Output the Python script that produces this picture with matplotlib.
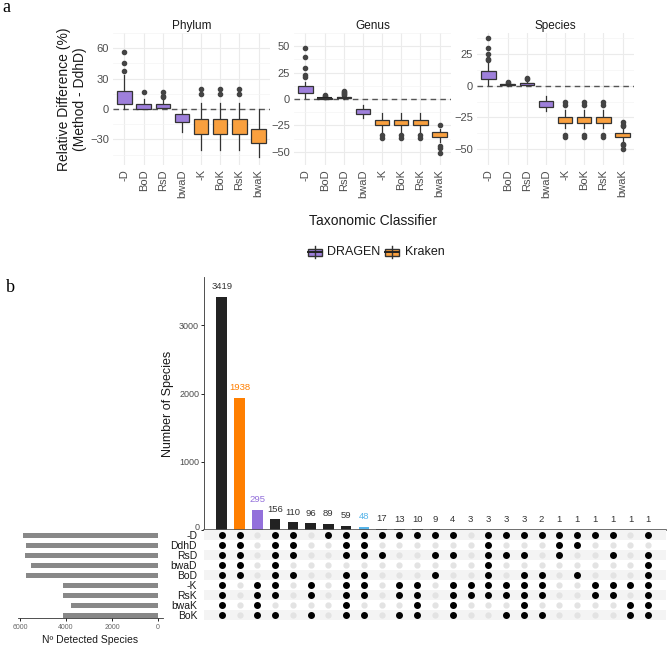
import numpy as np
import matplotlib
matplotlib.use("Agg")
from matplotlib import pyplot as plt
from matplotlib.patches import Rectangle
from matplotlib.transforms import ScaledTranslation

plt.rcParams['font.family'] = ['Liberation Sans', 'DejaVu Sans']

# ---------------- panel a data (box stats) ----------------
methods = ['-D', 'BoD', 'RsD', 'bwaD', '-K', 'BoK', 'RsK', 'bwaK']
groups = ['DRAGEN'] * 4 + ['Kraken'] * 4
levels = ['Phylum', 'Genus', 'Species']

# whislo, q1, med, q3, whishi
phylum_stats = [(0, 4.5, 10, 17.5, 34), (0, 0, 0.5, 5, 10), (0.5, 0.8, 2.5, 5, 10), (-23, -12.5, -8.5, -4.5, -1),
                (-40, -24.5, -17.5, -9.5, 5.5), (-40, -24.5, -17.5, -9.5, 5.5), (-40, -24.5, -17.5, -9.5, 5.5),
                (-47, -33.5, -28, -20, 0)]
phylum_fliers = [[37, 45, 56], [17], [12, 13, 17], [], [15, 20], [15, 20], [15, 20], []]

genus_stats = [(1, 5.3, 8.5, 12.2, 16), (0, 0.2, 0.5, 1, 1.5), (0, 0.5, 1, 2, 3), (-18.3, -14.2, -11.9, -9.4, -5.3),
               (-30.8, -24.7, -22.5, -19.7, -12.8), (-30.8, -24.7, -22.5, -19.7, -12.8), (-30.8, -24.7, -22.5, -19.7, -12.8),
               (-40.5, -36.4, -34.2, -31.7, -28)]
genus_fliers = [[21, 22.7, 29, 40, 48], [2, 3, 4], [4, 5, 6, 7, 8], [], [-34.4, -37.2], [-34.4, -37.2], [-34.4, -37.2],
                [-24.7, -44.7, -46.7, -51]]

species_stats = [(0.7, 5.6, 8.8, 11.5, 17.9), (0, 0.2, 0.5, 1, 1.5), (0.3, 0.8, 1.5, 2.5, 4), (-20, -16.4, -14, -12, -7.9),
                 (-33.6, -29.4, -26.7, -24.3, -19), (-33.6, -29.4, -26.7, -24.3, -19), (-33.6, -29.4, -26.7, -24.3, -19),
                 (-43.4, -40.2, -38.7, -37.3, -33.6)]
species_fliers = [[20, 21, 24.7, 29.6, 37.5], [2, 3], [5, 6.5], [], [-12.7, -15, -38.5, -40.4], [-12.7, -15, -38.5, -40.4],
                  [-12.7, -15, -38.5, -40.4], [-28.7, -30.7, -32, -46.3, -47, -50.2]]

y_ticks = {'Phylum': [-30, 0, 30, 60], 'Genus': [-50, -25, 0, 25, 50], 'Species': [-50, -25, 0, 25]}
y_lims = {'Phylum': (-55.3, 61.3), 'Genus': (-56, 53), 'Species': (-54.4, 41.6)}

# ---------------- panel b data ----------------
sets = ['-D', 'DdhD', 'RsD', 'bwaD', 'BoD', '-K', 'RsK', 'bwaK', 'BoK']
set_sizes = [5888, 5735, 5772, 5517, 5749, 4118, 4117, 3792, 4110]
inter_sizes = [3419, 1938, 295, 156, 110, 96, 89, 59, 48, 17, 13, 10, 9, 4, 3, 3, 3, 3, 2, 1, 1, 1, 1, 1, 1]
inter_members = [
    sets,
    ['-D', 'DdhD', 'RsD', 'bwaD', 'BoD'],
    ['-K', 'RsK', 'bwaK', 'BoK'],
    ['-D', 'DdhD', 'RsD', 'bwaD', 'BoD', '-K', 'RsK', 'BoK'],
    ['-D', 'DdhD', 'RsD', 'BoD'],
    ['-K', 'RsK', 'BoK'],
    ['-D'],
    ['-D', 'DdhD', 'RsD', 'BoD', '-K', 'RsK', 'bwaK', 'BoK'],
    ['-D', 'DdhD', 'RsD', 'BoD', '-K', 'RsK', 'BoK'],
    ['-D', 'RsD'],
    ['-D', '-K', 'RsK', 'BoK'],
    ['-D', '-K', 'RsK', 'bwaK', 'BoK'],
    ['-D', 'RsD', 'BoD'],
    ['-D', 'RsD', '-K', 'RsK', 'bwaK', 'BoK'],
    ['-K', 'RsK'],
    ['-D', 'DdhD', 'RsD', 'bwaD', 'BoD', '-K', 'RsK'],
    ['-D', 'RsD', '-K', 'RsK', 'BoK'],
    ['-D', 'RsD', 'BoD', '-K', 'RsK', 'bwaK', 'BoK'],
    ['-D', 'BoD', '-K', 'RsK', 'BoK'],
    ['-D', 'DdhD', 'RsD'],
    ['-D', 'DdhD', 'BoD'],
    ['-D', '-K', 'RsK'],
    ['-D', 'RsD', '-K', 'RsK'],
    ['-K', 'bwaK', 'BoK'],
    ['-D', 'RsD', 'bwaD', 'BoD', '-K', 'RsK', 'bwaK', 'BoK'],
]
bar_colors = {1: '#FF7F00', 2: '#9370DB', 8: '#56B4E9'}

W, H = 669, 648
fig = plt.figure(figsize=(W / 100, H / 100), dpi=100)


def px_axes(x0, y0, x1, y1):
    return fig.add_axes([x0 / W, 1 - y1 / H, (x1 - x0) / W, (y1 - y0) / H])


fill = {'DRAGEN': '#9E7FDB', 'Kraken': '#F9A03F'}
edge = '#333333'
all_stats = {'Phylum': (phylum_stats, phylum_fliers), 'Genus': (genus_stats, genus_fliers),
             'Species': (species_stats, species_fliers)}
panel_x = {'Phylum': (113, 270), 'Genus': (294, 451), 'Species': (477, 634)}

for lev in levels:
    st, fl = all_stats[lev]
    ax = px_axes(panel_x[lev][0], 33, panel_x[lev][1], 165)
    bxp = []
    for (lo, q1, med, q3, hi), f in zip(st, fl):
        bxp.append(dict(whislo=lo, q1=q1, med=med, q3=q3, whishi=hi, fliers=f))
    ax.axhline(0, color='#555555', ls=(0, (4, 3)), lw=1, zorder=1)
    res = ax.bxp(bxp, positions=range(8), widths=0.75, patch_artist=True, showcaps=False,
                 boxprops=dict(edgecolor=edge, lw=0.9),
                 medianprops=dict(color='#222222', lw=1.5),
                 whiskerprops=dict(color=edge, lw=0.9),
                 flierprops=dict(marker='o', markerfacecolor='#444444', markeredgecolor='#444444',
                                 markersize=3))
    for b, g in zip(res['boxes'], groups):
        b.set_facecolor(fill[g])
        b.set_zorder(3)
    ax.set_xlim(-0.6, 7.6)
    ax.set_ylim(*y_lims[lev])
    ax.set_yticks(y_ticks[lev])
    tk = y_ticks[lev]
    ax.set_yticks([(a + b) / 2 for a, b in zip(tk[:-1], tk[1:])] +
                  [tk[0] - (tk[1] - tk[0]) / 2, tk[-1] + (tk[1] - tk[0]) / 2], minor=True)
    ax.set_xticks(range(8))
    ax.set_xticklabels(methods, rotation=90)
    ax.grid(True, which='major', color='#EBEBEB', lw=0.8)
    ax.grid(True, which='minor', axis='y', color='#F4F4F4', lw=0.5)
    ax.set_axisbelow(True)
    for s in ax.spines.values():
        s.set_visible(False)
    ax.tick_params(length=0, labelsize=8, labelcolor='#4D4D4D', pad=3)
    ax.tick_params(which='minor', length=0)
    ax.set_title(lev, fontsize=8.5, color='#1A1A1A', pad=3)
    if lev == 'Phylum':
        ax.set_ylabel('Relative Difference (%)\n(Method - DdhD)', fontsize=10, color='#1A1A1A', labelpad=2)

fig.text(373 / W, 1 - 221 / H, 'Taxonomic Classifier', ha='center', va='center', fontsize=10, color='#1A1A1A')

# legend with boxplot-style keys
lax = px_axes(300, 242, 460, 262)
lax.set_xlim(300, 460)
lax.set_ylim(262, 242)
lax.axis('off')
for kx, name, tx in [(308, 'DRAGEN', 327), (385, 'Kraken', 405)]:
    lax.plot([kx + 7, kx + 7], [246, 258], color=edge, lw=1)
    lax.add_patch(Rectangle((kx, 248.5), 14, 7, facecolor=fill[name], edgecolor=edge, lw=1))
    lax.plot([kx, kx + 14], [252, 252], color='#222222', lw=1.4)
    lax.text(tx, 252, name, va='center', ha='left', fontsize=9, color='#1A1A1A')

fig.text(2 / W, 1 - 7 / H, 'a', family='Liberation Serif', fontsize=13, va='center')
fig.text(6 / W, 1 - 287 / H, 'b', family='Liberation Serif', fontsize=13, va='center')

# ---------------- panel b: intersection bars ----------------
n = len(inter_sizes)
bax = px_axes(204, 277, 666, 530)
cols = [bar_colors.get(i, '#222222') for i in range(n)]
bax.bar(range(n), inter_sizes, width=0.6, color=cols)
for i, v in enumerate(inter_sizes):
    bax.annotate(str(v), (i, v), xytext=(0, 4), textcoords='offset points', ha='center', va='bottom',
                 fontsize=6.8, color=bar_colors.get(i, '#333333'))
bax.set_xlim(-1, n)
bax.set_ylim(0, 3710)
bax.set_yticks([0, 1000, 2000, 3000])
bax.set_xticks([])
for s in ['top', 'right']:
    bax.spines[s].set_visible(False)
bax.spines['left'].set_color('#333333')
bax.spines['bottom'].set_color('#555555')
bax.spines['bottom'].set_linewidth(1.2)
bax.spines['left'].set_linewidth(0.6)
bax.tick_params(axis='y', labelsize=6.5, labelcolor='#4D4D4D', length=2.5, width=0.6, pad=1)
bax.set_ylabel('Number of Species', fontsize=9, color='#1A1A1A', labelpad=4)
fig.canvas.draw()
zero_lab = bax.get_yticklabels()[0]
zero_lab.set_transform(zero_lab.get_transform() + ScaledTranslation(0, 4 / 100, fig.dpi_scale_trans))

# ---------------- panel b: matrix ----------------
max_ = px_axes(204, 530, 666, 620)
max_.set_xlim(-1, n)
max_.set_ylim(8.5, -0.5)
for r in range(0, len(sets), 2):
    max_.axhspan(r - 0.5, r + 0.5, color='#F4F4F4', lw=0, zorder=0)
for i, mem in enumerate(inter_members):
    for r, s in enumerate(sets):
        on = s in mem
        max_.plot(i, r, 'o', ms=4 if on else 3.5, color='#000000' if on else '#E3E3E3', zorder=3)
max_.set_yticks(range(len(sets)))
max_.set_yticklabels(sets)
max_.set_xticks([])
for s in max_.spines.values():
    s.set_visible(False)
max_.tick_params(axis='y', length=0, labelsize=7.5, labelcolor='#1A1A1A', pad=5)

# ---------------- panel b: set sizes ----------------
sax = px_axes(18, 530, 163, 618)
sax.barh(range(len(sets)), set_sizes, height=0.5, color='#888888')
sax.set_xlim(6087, -217)
sax.set_ylim(8.3, -0.5)
sax.set_yticks([])
sax.set_xticks([6000, 4000, 2000, 0])
for s in ['top', 'right', 'left']:
    sax.spines[s].set_visible(False)
sax.spines['bottom'].set_color('#333333')
sax.spines['bottom'].set_linewidth(0.6)
sax.tick_params(axis='x', labelsize=5, labelcolor='#666666', length=2.5, width=0.6, pad=2)
sax.set_xlabel('Nº Detected Species', fontsize=7.5, color='#1A1A1A', labelpad=3)

fig.savefig('out.png', dpi=100)
